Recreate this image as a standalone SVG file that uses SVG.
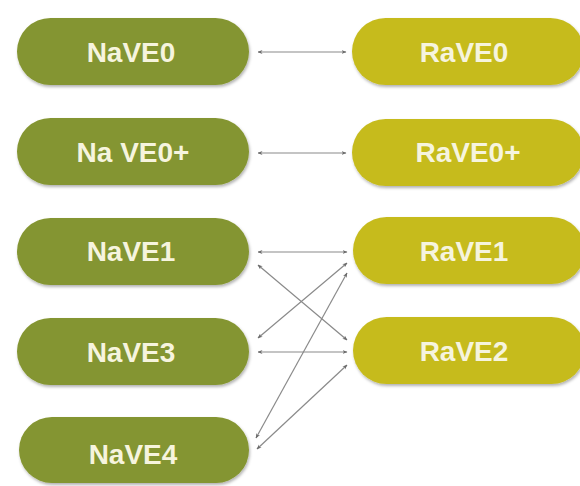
<svg xmlns="http://www.w3.org/2000/svg" width="580" height="486" viewBox="0 0 580 486">
<style>
.na{fill:#849530;}
.ra{fill:#c6bb1f;}
.lbl{font-family:"Liberation Sans",Arial,sans-serif;font-weight:bold;font-size:28px;fill:#f6f4de;text-anchor:middle;}
.c{stroke:#8a8a8a;stroke-width:1.2;fill:none;marker-start:url(#ah);marker-end:url(#ah);}
</style>
<defs>
<filter id="sh" x="-10%" y="-20%" width="120%" height="150%">
<feDropShadow dx="1" dy="2" stdDeviation="1.5" flood-color="#000" flood-opacity="0.3"/>
</filter>
<marker id="ah" viewBox="0 0 10 10" refX="9" refY="5" markerWidth="5" markerHeight="5" orient="auto-start-reverse" markerUnits="userSpaceOnUse">
<path d="M0,1 L10,5 L0,9 L3,5 Z" fill="#6a6a6a"/>
</marker>
</defs>
<rect width="580" height="486" fill="#ffffff"/>
<g id="connectors">
<line class="c" x1="258" y1="52" x2="346" y2="52"/>
<line class="c" x1="258" y1="153" x2="346" y2="153"/>
<line class="c" x1="258" y1="252" x2="347" y2="252"/>
<line class="c" x1="258" y1="265" x2="347" y2="340"/>
<line class="c" x1="347" y1="263" x2="258" y2="338"/>
<line class="c" x1="347" y1="273" x2="256" y2="438"/>
<line class="c" x1="258" y1="352" x2="347" y2="352"/>
<line class="c" x1="347" y1="365" x2="257" y2="449"/>
</g>
<g id="NaVE0"><rect class="na" filter="url(#sh)" x="17" y="18" width="232" height="67" rx="33.5"/><text class="lbl" x="131" y="62">NaVE0</text></g>
<g id="NaVE0plus"><rect class="na" filter="url(#sh)" x="17" y="118" width="232" height="67" rx="33.5"/><text class="lbl" x="133" y="162">Na VE0+</text></g>
<g id="NaVE1"><rect class="na" filter="url(#sh)" x="17" y="218" width="232" height="67" rx="33.5"/><text class="lbl" x="131" y="261">NaVE1</text></g>
<g id="NaVE3"><rect class="na" filter="url(#sh)" x="17" y="318" width="232" height="67" rx="33.5"/><text class="lbl" x="131" y="362">NaVE3</text></g>
<g id="NaVE4"><rect class="na" filter="url(#sh)" x="19" y="417" width="230" height="66" rx="33"/><text class="lbl" x="133" y="464">NaVE4</text></g>
<g id="RaVE0"><rect class="ra" filter="url(#sh)" x="352" y="18" width="232" height="67" rx="33.5"/><text class="lbl" x="464" y="62">RaVE0</text></g>
<g id="RaVE0plus"><rect class="ra" filter="url(#sh)" x="352" y="119" width="232" height="67" rx="33.5"/><text class="lbl" x="468" y="162">RaVE0+</text></g>
<g id="RaVE1"><rect class="ra" filter="url(#sh)" x="353" y="217" width="232" height="67" rx="33.5"/><text class="lbl" x="464" y="261">RaVE1</text></g>
<g id="RaVE2"><rect class="ra" filter="url(#sh)" x="353" y="317" width="232" height="67" rx="33.5"/><text class="lbl" x="464" y="361">RaVE2</text></g>
</svg>
